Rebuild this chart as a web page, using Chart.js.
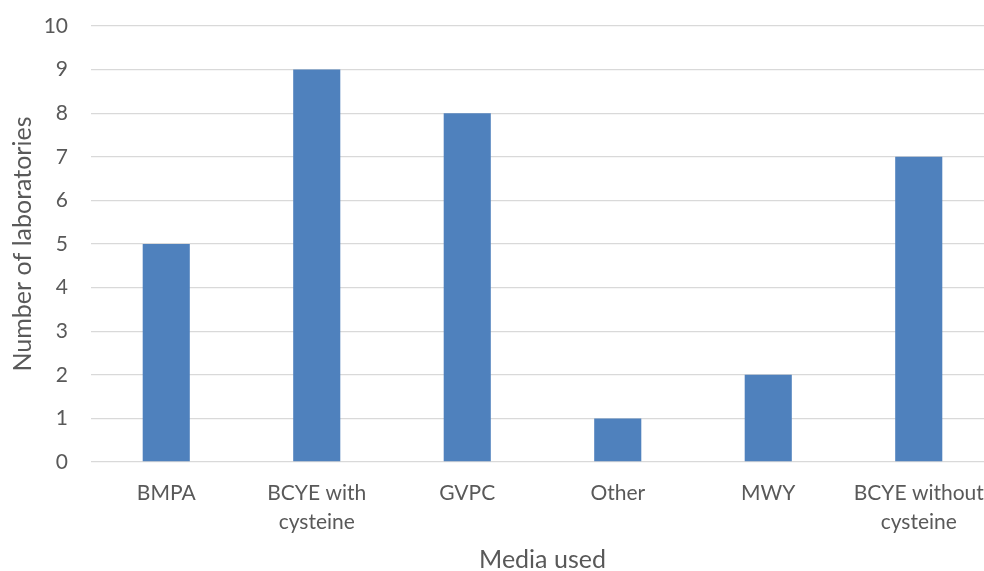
<!DOCTYPE html>
<html>
<head>
<meta charset="utf-8">
<script src="https://cdn.jsdelivr.net/npm/chart.js@4/dist/chart.umd.min.js"></script>
<style>
  html, body { margin: 0; padding: 0; background: #ffffff; overflow: hidden; }
  #wrap { width: 1004px; height: 571px; position: relative; }
</style>
</head>
<body>
<div id="wrap"><canvas id="chart"></canvas></div>
<script>
// Laboratories by culture medium
const categories = ['BMPA', ['BCYE with', 'cysteine'], 'GVPC', 'Other', 'MWY', ['BCYE without', 'cysteine']];
const laboratories = [5, 9, 8, 1, 2, 7];
const yTicks = [0, 1, 2, 3, 4, 5, 6, 7, 8, 9, 10];

const textColor = '#595959';
const fontFamily = 'Lato, "Open Sans", sans-serif';

new Chart(document.getElementById('chart'), {
  type: 'bar',
  data: {
    labels: categories,
    datasets: [{
      label: 'Number of laboratories',
      data: laboratories,
      backgroundColor: '#4f81bd',
      borderWidth: 0,
      barPercentage: 0.313,
      categoryPercentage: 1.0
    }]
  },
  options: {
    responsive: true,
    maintainAspectRatio: false,
    animation: false,
    layout: { padding: { top: 26, right: 10, left: 0, bottom: 0 } },
    plugins: {
      legend: { display: false },
      tooltip: { enabled: false }
    },
    scales: {
      x: {
        offset: true,
        grid: { display: false, drawTicks: false },
        border: { display: false },
        ticks: {
          color: textColor,
          font: { family: fontFamily, size: 21, lineHeight: 1.38 },
          padding: 17,
          maxRotation: 0,
          autoSkip: false
        },
        title: {
          display: true,
          text: 'Media used',
          color: textColor,
          font: { family: fontFamily, size: 25, lineHeight: 0.9 },
          padding: { top: 0, bottom: 0 }
        },
        afterFit: (scale) => { scale.height = 109; }
      },
      y: {
        min: 0,
        max: 10,
        afterBuildTicks: (scale) => { scale.ticks = yTicks.map(v => ({ value: v })); },
        grid: { color: '#d9d9d9', lineWidth: 1.3, drawTicks: false },
        border: { display: false },
        ticks: {
          color: textColor,
          font: { family: fontFamily, size: 21 },
          padding: 23
        },
        title: {
          display: true,
          text: 'Number of laboratories',
          color: textColor,
          font: { family: fontFamily, size: 25, lineHeight: 1 },
          padding: { top: 10, bottom: 0 }
        },
        afterFit: (scale) => {
          scale.width = 91;
          // the outer layout padding already leaves room for the end labels
          scale.paddingTop = 0;
          scale.paddingBottom = 0;
        }
      }
    }
  }
});
</script>
</body>
</html>
